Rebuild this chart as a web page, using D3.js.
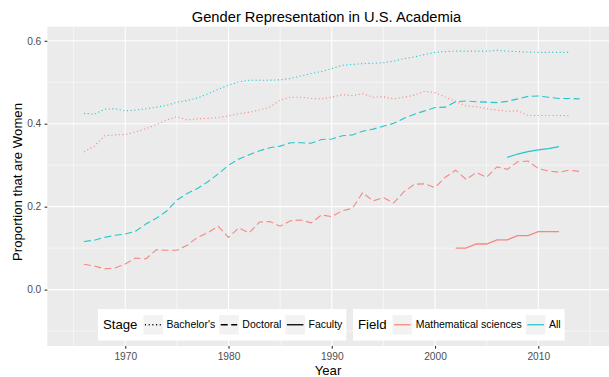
<!DOCTYPE html>
<html>
<head>
<meta charset="utf-8">
<script src="https://cdn.jsdelivr.net/npm/d3@7"></script>
<style>
  body { margin: 0; background: #ffffff; }
  svg { display: block; }
  text { font-family: "Liberation Sans", Arial, Helvetica, sans-serif; }
</style>
</head>
<body>
<svg id="chart" width="609" height="377"></svg>
<script>
// ---- data -------------------------------------------------------------
const chartTitle = "Gender Representation in U.S. Academia";
const xTitle = "Year";
const yTitle = "Proportion that are Women";
const stages = ["Bachelor's", "Doctoral", "Faculty"];
const fields = ["Mathematical sciences", "All"];
const xTicks = [1970, 1980, 1990, 2000, 2010];
const xMinor = [1965, 1975, 1985, 1995, 2005, 2015];
const yTicks = [0.0, 0.2, 0.4, 0.6];
const yMinor = [-0.1, 0.1, 0.3, 0.5];

// Bachelor's degrees, 1966-2013
const bachelorsStart = 1966;
const bachelorsMath = [
  0.332, 0.346, 0.371, 0.373, 0.374, 0.380, 0.388, 0.398, 0.409, 0.417,
  0.409, 0.412, 0.413, 0.415, 0.419, 0.424, 0.428, 0.433, 0.440, 0.457,
  0.464, 0.464, 0.461, 0.460, 0.464, 0.470, 0.468, 0.472, 0.464, 0.465,
  0.460, 0.464, 0.469, 0.478, 0.475, 0.464, 0.454, 0.443, 0.441, 0.436,
  0.433, 0.430, 0.431, 0.420, 0.420, 0.420, 0.420, 0.419
];
const bachelorsAll = [
  0.425, 0.423, 0.435, 0.436, 0.431, 0.433, 0.436, 0.440, 0.444, 0.452,
  0.456, 0.462, 0.472, 0.483, 0.493, 0.501, 0.505, 0.505, 0.505, 0.506,
  0.509, 0.515, 0.521, 0.526, 0.533, 0.541, 0.543, 0.545, 0.546, 0.547,
  0.551, 0.557, 0.561, 0.567, 0.572, 0.574, 0.575, 0.575, 0.575, 0.575,
  0.577, 0.575, 0.574, 0.573, 0.572, 0.572, 0.572, 0.572
];

// Doctoral degrees, 1966-2014
const doctoralStart = 1966;
const doctoralMath = [
  0.061, 0.057, 0.050, 0.052, 0.062, 0.076, 0.074, 0.096, 0.095, 0.095,
  0.107, 0.126, 0.137, 0.153, 0.126, 0.149, 0.137, 0.163, 0.164, 0.153,
  0.166, 0.168, 0.161, 0.180, 0.176, 0.190, 0.196, 0.234, 0.214, 0.222,
  0.209, 0.236, 0.254, 0.255, 0.246, 0.271, 0.288, 0.266, 0.282, 0.271,
  0.296, 0.290, 0.308, 0.310, 0.292, 0.286, 0.283, 0.288, 0.285
];
const doctoralAll = [
  0.116, 0.119, 0.126, 0.131, 0.134, 0.141, 0.158, 0.172, 0.189, 0.216,
  0.232, 0.244, 0.260, 0.279, 0.300, 0.315, 0.325, 0.335, 0.342, 0.346,
  0.354, 0.354, 0.353, 0.362, 0.363, 0.371, 0.373, 0.382, 0.387, 0.394,
  0.401, 0.413, 0.423, 0.431, 0.439, 0.440, 0.453, 0.455, 0.453, 0.452,
  0.451, 0.454, 0.460, 0.466, 0.467, 0.464, 0.461, 0.461, 0.460
];

// Faculty
const facultyMathStart = 2002;
const facultyMath = [0.10, 0.10, 0.11, 0.11, 0.12, 0.12, 0.13, 0.13, 0.14, 0.14, 0.14];
const facultyAllStart = 2007;
const facultyAll = [0.319, 0.327, 0.333, 0.337, 0.340, 0.345];

const series = [
  { stage: "Bachelor's", field: "Mathematical sciences", start: bachelorsStart, values: bachelorsMath },
  { stage: "Bachelor's", field: "All", start: bachelorsStart, values: bachelorsAll },
  { stage: "Doctoral", field: "Mathematical sciences", start: doctoralStart, values: doctoralMath },
  { stage: "Doctoral", field: "All", start: doctoralStart, values: doctoralAll },
  { stage: "Faculty", field: "Mathematical sciences", start: facultyMathStart, values: facultyMath },
  { stage: "Faculty", field: "All", start: facultyAllStart, values: facultyAll }
];

// ---- layout -----------------------------------------------------------
const panel = { left: 47.3, right: 609, top: 26.7, bottom: 346 };

const x = d3.scaleLinear().domain([1962.45, 2016.85]).range([panel.left, panel.right]);
const y = d3.scaleLinear().domain([-0.136, 0.634]).range([panel.bottom, panel.top]);

const color = d3.scaleOrdinal().domain(fields).range(["#F8766D", "#00BFC4"]);
const dash = d3.scaleOrdinal().domain(stages).range(["1.1,2.6", "7,3.5", null]);

const svg = d3.select("#chart");

// panel background + grid
const gridG = svg.append("g");
gridG.append("rect")
  .attr("x", panel.left).attr("y", panel.top)
  .attr("width", panel.right - panel.left).attr("height", panel.bottom - panel.top)
  .attr("fill", "#EBEBEB");

gridG.selectAll(".ymin").data(yMinor).join("line")
  .attr("x1", panel.left).attr("x2", panel.right)
  .attr("y1", d => y(d)).attr("y2", d => y(d))
  .attr("stroke", "#fff").attr("stroke-width", 0.55);
gridG.selectAll(".xmin").data(xMinor).join("line")
  .attr("y1", panel.top).attr("y2", panel.bottom)
  .attr("x1", d => x(d)).attr("x2", d => x(d))
  .attr("stroke", "#fff").attr("stroke-width", 0.55);
gridG.selectAll(".ymaj").data(yTicks).join("line")
  .attr("x1", panel.left).attr("x2", panel.right)
  .attr("y1", d => y(d)).attr("y2", d => y(d))
  .attr("stroke", "#fff").attr("stroke-width", 1.1);
gridG.selectAll(".xmaj").data(xTicks).join("line")
  .attr("y1", panel.top).attr("y2", panel.bottom)
  .attr("x1", d => x(d)).attr("x2", d => x(d))
  .attr("stroke", "#fff").attr("stroke-width", 1.1);

// one path per stage x field combination
const line = d3.line()
  .x(d => x(d.year))
  .y(d => y(d.value));

const linesG = svg.append("g");
series.forEach(s => {
  const pts = s.values.map((v, i) => ({ year: s.start + i, value: v }));
  linesG.append("path")
    .datum(pts)
    .attr("d", line)
    .attr("fill", "none")
    .attr("stroke", color(s.field))
    .attr("stroke-opacity", 0.85)
    .attr("stroke-width", s.stage === "Faculty" ? 1.3 : 1.1)
    .attr("stroke-dasharray", dash(s.stage));
});

// axes
const axisFont = "10.2px";
const xAxis = svg.append("g")
  .attr("transform", `translate(0,${panel.bottom})`)
  .call(d3.axisBottom(x).tickValues(xTicks).tickFormat(d3.format("d")).tickSize(2.7).tickPadding(3.6));
const yAxis = svg.append("g")
  .attr("transform", `translate(${panel.left},0)`)
  .call(d3.axisLeft(y).tickValues(yTicks).tickFormat(d3.format(".1f")).tickSize(2.7).tickPadding(3.3));
[xAxis, yAxis].forEach(a => {
  a.select(".domain").remove();
  a.selectAll(".tick line").attr("stroke", "#333333").attr("stroke-width", 1.1);
  a.selectAll(".tick text").attr("fill", "#4D4D4D").style("font-size", axisFont)
    .style("font-family", '"Liberation Sans", Arial, Helvetica, sans-serif');
});

// titles
svg.append("text")
  .attr("x", 326.5).attr("y", 17).attr("dy", "0.35em")
  .attr("text-anchor", "middle")
  .style("font-size", "14.7px").attr("fill", "#000")
  .text(chartTitle);

svg.append("text")
  .attr("x", 328).attr("y", 370).attr("dy", "0.35em")
  .attr("text-anchor", "middle")
  .style("font-size", "13.2px").attr("fill", "#000")
  .text(xTitle);

svg.append("text")
  .attr("transform", `translate(17,182) rotate(-90)`)
  .attr("dy", "0.35em")
  .attr("text-anchor", "middle")
  .style("font-size", "13.2px").attr("fill", "#000")
  .text(yTitle);

// ---- legends ----------------------------------------------------------
const legTop = 309, legH = 31.5;
const keyW = 19.5, keyH = 19.5;
const padL = 5, padR = 4, titleGap = 6, keyLabelGap = 3.6, itemGap = 4;

function buildLegend(parent, legendTitle, items, drawKey) {
  const g = parent.append("g");
  const bg = g.append("rect").attr("y", 0).attr("height", legH).attr("fill", "#fff");
  let cx = padL;
  const t = g.append("text").attr("x", cx).attr("y", legH / 2).attr("dy", "0.35em")
    .style("font-size", "13.2px").attr("fill", "#000").text(legendTitle);
  cx += t.node().getComputedTextLength() + titleGap;
  items.forEach((it, i) => {
    g.append("rect").attr("x", cx).attr("y", (legH - keyH) / 2)
      .attr("width", keyW).attr("height", keyH).attr("fill", "#F2F2F2");
    drawKey(g, it, cx, legH / 2);
    cx += keyW + keyLabelGap;
    const lt = g.append("text").attr("x", cx).attr("y", legH / 2).attr("dy", "0.35em")
      .style("font-size", "10.5px").attr("fill", "#000").text(it);
    cx += lt.node().getComputedTextLength();
    if (i < items.length - 1) cx += itemGap;
  });
  const w = cx + padR;
  bg.attr("width", w);
  return { g, w };
}

const legendG = svg.append("g");
const stageLeg = buildLegend(legendG, "Stage", stages, (g, it, kx, ky) => {
  g.append("line").attr("x1", kx + 1.5).attr("x2", kx + keyW - 1.5)
    .attr("y1", ky).attr("y2", ky)
    .attr("stroke", "#000").attr("stroke-width", 1.3)
    .attr("stroke-dasharray", dash(it));
});
const fieldLeg = buildLegend(legendG, "Field", fields, (g, it, kx, ky) => {
  g.append("line").attr("x1", kx + 1.5).attr("x2", kx + keyW - 1.5)
    .attr("y1", ky).attr("y2", ky)
    .attr("stroke", color(it)).attr("stroke-opacity", 0.85).attr("stroke-width", 1.3);
});
const boxGap = 6.6;
const totalW = stageLeg.w + boxGap + fieldLeg.w;
const legLeft = 331.3 - totalW / 2;
stageLeg.g.attr("transform", `translate(${legLeft},${legTop})`);
fieldLeg.g.attr("transform", `translate(${legLeft + stageLeg.w + boxGap},${legTop})`);
</script>
</body>
</html>
